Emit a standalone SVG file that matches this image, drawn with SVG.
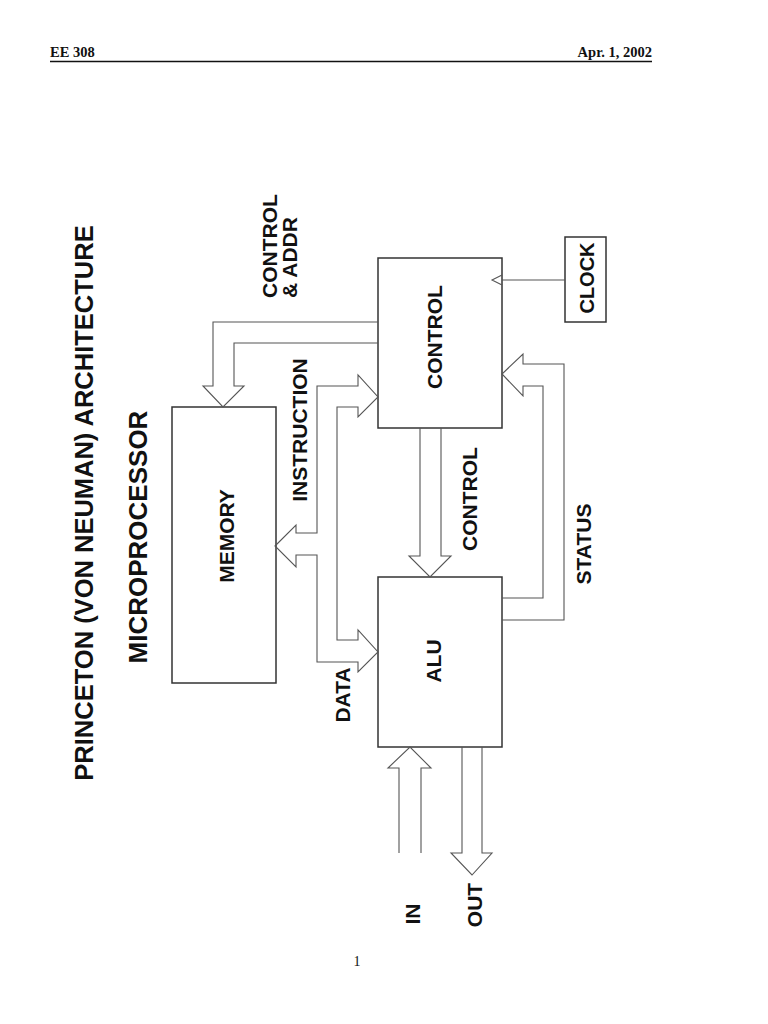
<svg xmlns="http://www.w3.org/2000/svg" width="768" height="1024" viewBox="0 0 768 1024">
<style>
.box{fill:#fff;stroke:#333;stroke-width:1.5}
.arr{fill:none;stroke:#555;stroke-width:1.1;stroke-linejoin:miter}
.lbl{font-family:"Liberation Sans",Arial,sans-serif;font-weight:bold;font-size:21px;fill:#111}
.hdr{font-family:"Liberation Serif","Times New Roman",serif;font-weight:bold;font-size:14.5px;fill:#111}
</style>
<rect width="768" height="1024" fill="#fff"/>
<g id="header">
<text class="hdr" x="50" y="57">EE 308</text>
<text class="hdr" x="652" y="57" text-anchor="end">Apr. 1, 2002</text>
<line x1="50" y1="61.5" x2="652" y2="61.5" stroke="#111" stroke-width="1.5"/>
</g>
<g id="title">
<text class="lbl" style="font-size:25.5px" text-anchor="middle" transform="translate(93,503) rotate(-90)">PRINCETON (VON NEUMAN) ARCHITECTURE</text>
<text class="lbl" style="font-size:26px" text-anchor="middle" transform="translate(147,537) rotate(-90)">MICROPROCESSOR</text>
</g>
<g id="memory">
<rect class="box" x="172" y="407" width="104" height="276"/>
<text class="lbl" text-anchor="middle" transform="translate(234,536) rotate(-90)">MEMORY</text>
</g>
<g id="control">
<rect class="box" x="378" y="258" width="124" height="170"/>
<text class="lbl" text-anchor="middle" transform="translate(442,337) rotate(-90)">CONTROL</text>
</g>
<g id="alu">
<rect class="box" x="378" y="577" width="124" height="170"/>
<text class="lbl" text-anchor="middle" transform="translate(441,661) rotate(-90)">ALU</text>
</g>
<g id="clock">
<rect class="box" x="565" y="237" width="41" height="85"/>
<text class="lbl" style="font-size:20px" text-anchor="middle" transform="translate(594,278) rotate(-90)">CLOCK</text>
</g>
<g id="connectors">
<path class="arr" d="M378,322 H213 V386 H203 L223,407 L244,386 H234 V343 H378"/>
<path class="arr" d="M275,546 L296,525 V533 H317 V386 H358 V375 L378,397 L358,417 V407 H337 V640 H358 V630 L378,652 L358,672 V662 H317 V555 H296 V567 Z"/>
<path class="arr" d="M420,428 V556 H409 L430,577 L451,556 H441 V428"/>
<path class="arr" d="M502,598 H543 V386 H523 V396 L502,374 L523,354 V364 H564 V620 H502"/>
<path class="arr" d="M565,280 H502 M502,275 L492,280 L502,285"/>
<path class="arr" d="M399,853 V768 H388 L410,747 L431,768 H421 V853"/>
<path class="arr" d="M462,747 V853 H451 L472,875 L492,853 H482 V747"/>
</g>
<g id="labels">
<text class="lbl" transform="translate(277,298) rotate(-90)">CONTROL</text>
<text class="lbl" transform="translate(297,298) rotate(-90)">&amp; ADDR</text>
<text class="lbl" text-anchor="middle" transform="translate(307,430) rotate(-90)">INSTRUCTION</text>
<text class="lbl" text-anchor="middle" transform="translate(350,695) rotate(-90)">DATA</text>
<text class="lbl" text-anchor="middle" transform="translate(477,499) rotate(-90)">CONTROL</text>
<text class="lbl" text-anchor="middle" transform="translate(591,544) rotate(-90)">STATUS</text>
<text class="lbl" text-anchor="middle" transform="translate(420,914) rotate(-90)">IN</text>
<text class="lbl" text-anchor="middle" transform="translate(482,905) rotate(-90)">OUT</text>
</g>
<g id="page-number">
<text x="357" y="966" text-anchor="middle" style="font-family:'Liberation Serif','Times New Roman',serif;font-size:14px;fill:#111">1</text>
</g>
</svg>
